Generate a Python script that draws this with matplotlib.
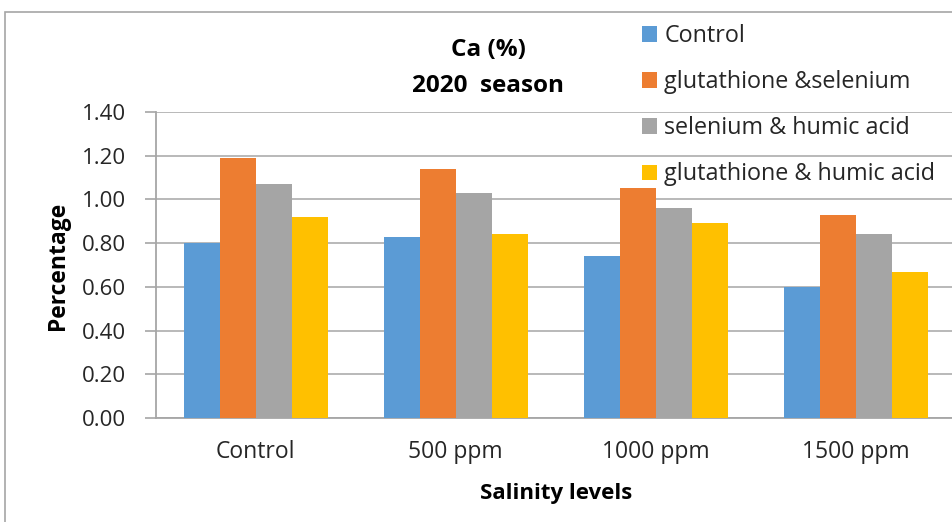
import matplotlib
matplotlib.use("Agg")
import matplotlib.pyplot as plt
import numpy as np
from matplotlib.patches import Rectangle

categories = ["Control", "500 ppm", "1000 ppm", "1500 ppm"]
series_names = ["Control", "glutathione &selenium", "selenium & humic acid",
                "glutathione & humic acid"]
control_vals = [0.80, 0.83, 0.74, 0.60]
glut_sel_vals = [1.19, 1.14, 1.05, 0.93]
sel_humic_vals = [1.07, 1.03, 0.96, 0.84]
glut_humic_vals = [0.92, 0.84, 0.89, 0.67]
colors = ["#5B9BD5", "#ED7D31", "#A5A5A5", "#FFC000"]
yticks = [0.0, 0.2, 0.4, 0.6, 0.8, 1.0, 1.2, 1.4]

plt.rcParams['font.family'] = ['Open Sans', 'DejaVu Sans']

W, H = 953, 522
fig = plt.figure(figsize=(W / 100, H / 100), dpi=100)
fig.patch.set_facecolor("white")

# chart border
fig.patches.append(Rectangle((5 / W, -0.05), 1.1, (H - 12) / H + 0.05,
                             transform=fig.transFigure, fill=False,
                             edgecolor="#a6a6a6", linewidth=1.2))

ax = fig.add_axes([155.7 / W, (H - 418) / H, 800 / W, (418 - 112) / H])
ax.set_facecolor("none")

x = np.arange(len(categories))
bw = 0.18
all_vals = [control_vals, glut_sel_vals, sel_humic_vals, glut_humic_vals]
for i, (vals, name, c) in enumerate(zip(all_vals, series_names, colors)):
    ax.bar(x + (i - 1.5) * bw, vals, width=bw, color=c, label=name,
           edgecolor="none", zorder=3)

ax.set_xlim(-0.5, 3.5)
ax.set_ylim(0, 1.4)
ax.set_yticks(yticks)
ax.set_yticklabels([f"{v:.2f}" for v in yticks], fontsize=16, color="#262626")
ax.set_xticks(x)
ax.set_xticklabels(categories, fontsize=16.5, color="#262626")
ax.tick_params(axis="x", length=0, pad=16)
ax.tick_params(axis="y", length=8, width=1.2, color="#a6a6a6", pad=13.5)
ax.yaxis.grid(True, color="#b3b3b3", linewidth=1.3, zorder=0)
ax.set_axisbelow(True)
for s in ["top", "right"]:
    ax.spines[s].set_visible(False)
for s in ["left", "bottom"]:
    ax.spines[s].set_color("#a6a6a6")
    ax.spines[s].set_linewidth(1.3)

fig.text(58 / W, 1 - 266 / H, "Percentage", rotation=90, ha="center",
         va="center", fontsize=16.5, fontweight="bold", color="black")
fig.text(556 / W, 1 - 493 / H, "Salinity levels", ha="center", va="center",
         fontsize=16, fontweight="bold", color="black")
fig.text(488 / W, 1 - 50 / H, "Ca (%)", ha="center", va="center",
         fontsize=17.5, fontweight="bold", color="black")
fig.text(488 / W, 1 - 86 / H, "2020  season", ha="center", va="center",
         fontsize=17.5, fontweight="bold", color="black")

leg = fig.legend(loc="upper left", bbox_to_anchor=(642 / W, 1 - 24 / H),
                 frameon=False, fontsize=16.8, handlelength=0.65,
                 handleheight=0.65, handletextpad=0.3, labelspacing=0.95,
                 borderaxespad=0, borderpad=0)
for t in leg.get_texts():
    t.set_color("#262626")

fig.savefig("out.png", dpi=100)
